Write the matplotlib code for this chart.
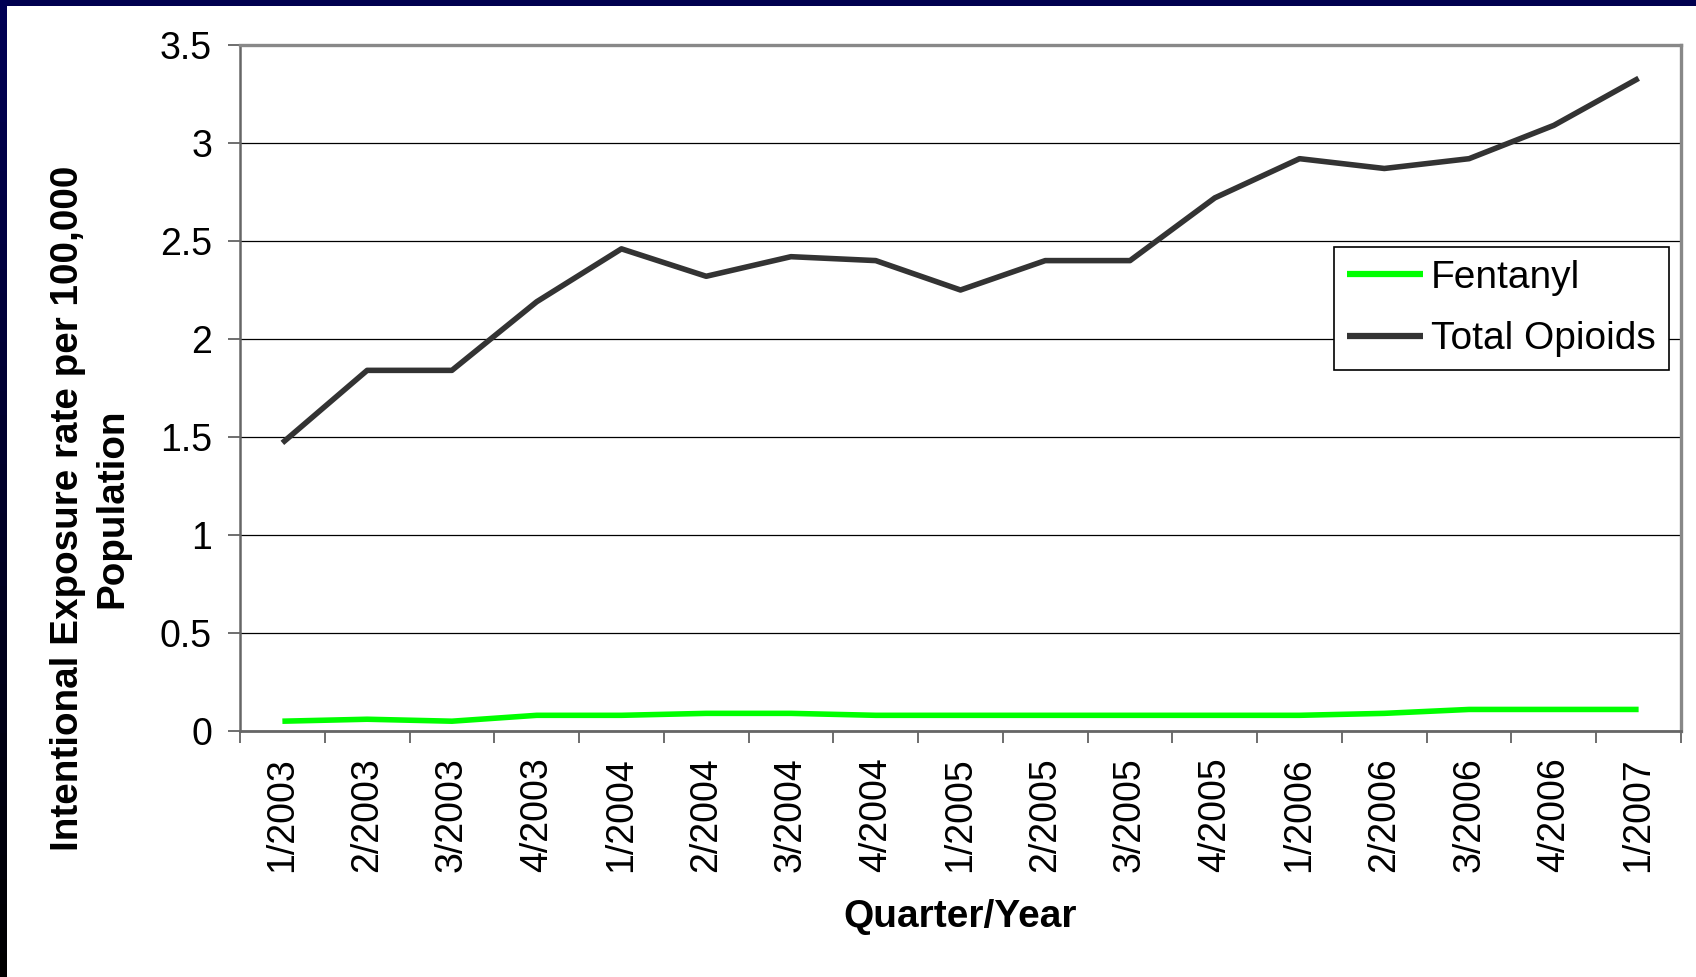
import numpy as np
import matplotlib
matplotlib.use("Agg")
import matplotlib.pyplot as plt
from matplotlib.lines import Line2D
from matplotlib.patches import Rectangle

plt.rcParams['font.family'] = ['Liberation Sans', 'DejaVu Sans']

# Quarters
quarters = ["1/2003", "2/2003", "3/2003", "4/2003",
            "1/2004", "2/2004", "3/2004", "4/2004",
            "1/2005", "2/2005", "3/2005", "4/2005",
            "1/2006", "2/2006", "3/2006", "4/2006",
            "1/2007"]

# Rates per 100,000
fentanyl = [0.05, 0.06, 0.05, 0.08, 0.08, 0.09, 0.09, 0.08,
            0.08, 0.08, 0.08, 0.08, 0.08, 0.09, 0.11, 0.11, 0.11]
total_opioids = [1.47, 1.84, 1.84, 2.19, 2.46, 2.32, 2.42, 2.40,
                 2.25, 2.40, 2.40, 2.72, 2.92, 2.87, 2.92, 3.09, 3.33]

y_ticks = [0, 0.5, 1, 1.5, 2, 2.5, 3, 3.5]
y_tick_labels = ["0", "0.5", "1", "1.5", "2", "2.5", "3", "3.5"]

fig = plt.figure(figsize=(16.96, 9.77), dpi=100)
fig.patch.set_facecolor("white")

# slide frame: navy strip on top, navy-to-black strip on the left
fig.add_artist(Rectangle((0, 1 - 6 / 977), 1, 6 / 977, transform=fig.transFigure,
                         facecolor="#00004f", edgecolor="none"))
n = 40
for i in range(n):
    c = (0, 0, 0.33 * i / (n - 1))
    fig.add_artist(Rectangle((0, i / n), 7 / 1696, 1 / n + 0.001, transform=fig.transFigure,
                             facecolor=c, edgecolor="none"))

ax = fig.add_axes([240 / 1696, 1 - 731 / 977, (1681 - 240) / 1696, (731 - 45) / 977])
x = np.arange(len(quarters))

ax.plot(x, fentanyl, color="#00ff00", lw=4, solid_capstyle="butt", zorder=3)
ax.plot(x, total_opioids, color="#333333", lw=4, solid_capstyle="butt", zorder=3)

ax.set_xlim(-0.5, len(quarters) - 0.5)
ax.set_ylim(0, 3.5)

ax.set_yticks(y_ticks)
ax.set_yticklabels(y_tick_labels)
ax.yaxis.grid(True, color="black", lw=0.9)
ax.set_axisbelow(True)
ax.tick_params(axis="y", direction="out", length=8.6, width=1.2, color="#555555",
               labelsize=27, pad=11.5)

ax.set_xticks(x)
ax.set_xticklabels(quarters, rotation=90)
ax.set_xticks(np.arange(-0.5, len(quarters)), minor=True)
ax.tick_params(axis="x", which="major", length=0, labelsize=27, pad=19)
ax.tick_params(axis="x", which="minor", direction="out", length=8.6, width=1.2,
               color="#555555")

for side in ["top", "right"]:
    ax.spines[side].set_color("#888888")
    ax.spines[side].set_linewidth(2.4)
ax.spines["left"].set_color("#666666")
ax.spines["left"].set_linewidth(1.8)
ax.spines["bottom"].set_color("#666666")
ax.spines["bottom"].set_linewidth(2.0)

handles = [Line2D([], [], color="#00ff00", lw=4.5, solid_capstyle="butt"),
           Line2D([], [], color="#333333", lw=4.5, solid_capstyle="butt")]
leg = ax.legend(handles, ["Fentanyl", "Total Opioids"],
                loc="upper left", bbox_to_anchor=((1334 - 240) / 1441, 1 - (247 - 45) / 686),
                fontsize=28, frameon=True, fancybox=False, framealpha=1,
                edgecolor="black", handlelength=1.97, handletextpad=0.2,
                labelspacing=0.66, borderpad=0.33, borderaxespad=0)
leg.get_frame().set_linewidth(1.2)

fig.text(90 / 1696, 1 - 508 / 977,
         "Intentional Exposure rate per 100,000\nPopulation",
         rotation=90, ha="center", va="center", multialignment="center",
         fontsize=27.8, fontweight="bold", linespacing=1.3)
fig.text(960 / 1696, 1 - 917 / 977, "Quarter/Year",
         ha="center", va="center", fontsize=28, fontweight="bold")

fig.savefig("out.png", dpi=100, facecolor="white")
